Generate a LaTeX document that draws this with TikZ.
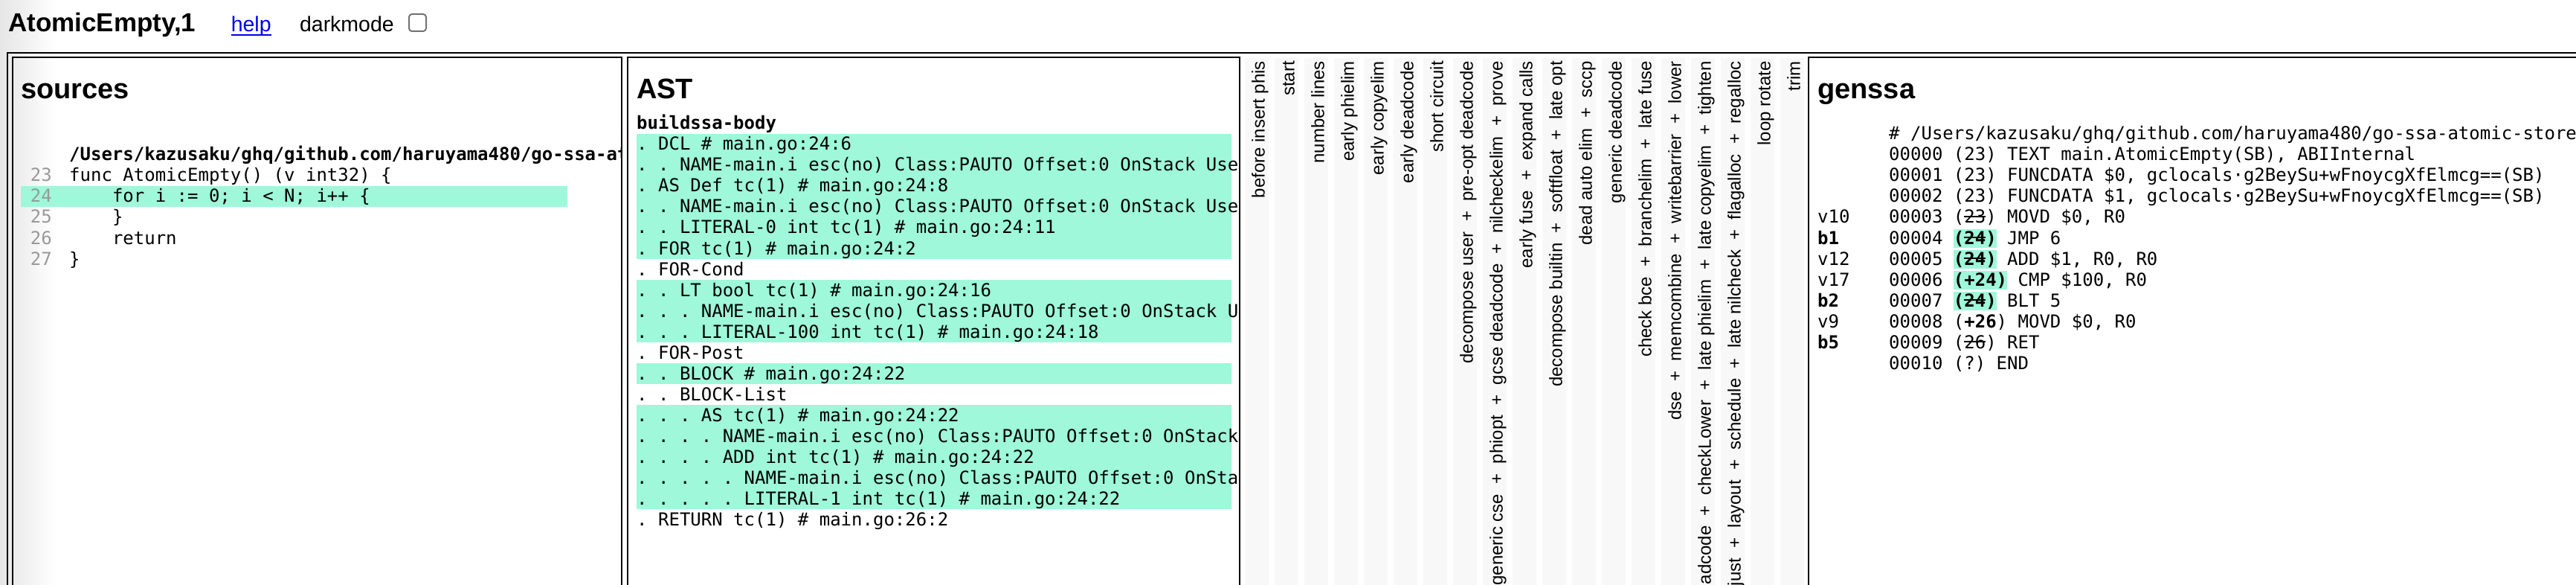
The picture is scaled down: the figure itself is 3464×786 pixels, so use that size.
\documentclass[tikz,border=0pt]{standalone}
\usepackage{fontspec}
\setmainfont{Liberation Sans}
\setmonofont{DejaVu Sans Mono}
\usetikzlibrary{positioning}

\definecolor{mint}{HTML}{9EF8D9}
\definecolor{linkblue}{HTML}{0000EE}
\definecolor{stripe}{HTML}{F8F8F8}
\definecolor{lineno}{HTML}{999999}

\newsavebox{\strikebox}
\newcommand{\strikepos}[1]{\sbox{\strikebox}{#1}\rlap{\rule[8.5pt]{\wd\strikebox}{1.5pt}}\usebox{\strikebox}}
\newcommand{\hlpos}[1]{{\setlength{\fboxsep}{0pt}\colorbox{mint}{\rule[-5pt]{0pt}{25pt}#1}}}
\newcommand{\pl}{\ \ +\ \ }

\begin{document}
\begin{tikzpicture}[x=1pt, y=-1pt,
			every node/.style={inner sep=0pt, anchor=base west},
			titletext/.style={font=\fontsize{28.5}{30}\selectfont},
			cellhead/.style={font=\fontsize{38}{40}\selectfont\bfseries},
			codeline/.style={font=\fontsize{24}{28}\selectfont\ttfamily},
			passname/.style={anchor=base east, rotate=90, font=\fontsize{24}{24}\selectfont},
			cellborder/.style={draw, line width=2.3pt}]
			\useasboundingbox (0,0) rectangle (3464,786);
			\clip (0,0) rectangle (3464,786);
			\shade[left color=black!10, right color=white] (0,0) rectangle (75,786);
			\node[font=\fontsize{35}{36}\selectfont\bfseries] (title) at (11,43) {AtomicEmpty,1};
			\node[titletext, text=linkblue, base right=47pt of title] (help) {help};
			\draw[linkblue, line width=2pt] ([yshift=-4pt]help.base west) -- ([yshift=-4pt]help.base east);
			\node[titletext, base right=38pt of help] (dark) {darkmode};
			\node[draw=black!55, line width=2pt, rounded corners=4pt, minimum size=23pt, anchor=south west] (darkbox) at ([xshift=19pt]dark.base east) {};
			\draw[cellborder] (3470,71) -| (10,790);
			\draw[cellborder] (17,77) rectangle (836,790);
			\draw[cellborder] (844,77) rectangle (1667,790);
			\draw[cellborder] (2432,77) rectangle (3480,790);
			\foreach \pass [count=\i from 0] in {before insert phis, start, number lines, early phielim, early copyelim, early deadcode, short circuit, decompose user\pl pre-opt deadcode, generic cse\pl phiopt\pl gcse deadcode\pl nilcheckelim\pl prove, early fuse\pl expand calls, decompose builtin\pl softfloat\pl late opt, dead auto elim\pl sccp, generic deadcode, check bce\pl branchelim\pl late fuse, dse\pl memcombine\pl writebarrier\pl lower, adcode\pl checkLower\pl late phielim\pl late copyelim\pl tighten, just\pl layout\pl schedule\pl late nilcheck\pl flagalloc\pl regalloc, loop rotate, trim}{
				\fill[stripe] ({1674+40*\i},78) rectangle +(32,720);
				\node[passname] (pass\i) at ({1700.5+40*\i},82) {\pass};
			}
			\node[cellhead] (srchead) at (28,133) {sources};
			\fill[mint] (28,250) rectangle (763,278);
			\begin{scope}
				\clip (18,78) rectangle (835,790);
				\node[codeline] (srcpath) at (93,216) {\textbf{/Users/kazusaku/ghq/github.com/haruyama480/go-ssa-at}};
				\foreach \n/\ind/\src in {23/0/func AtomicEmpty() (v int32) \{, 24/4/for i := 0; i < N; i++ \{, 25/4/\}, 26/4/return, 27/0/\}}{
					\node[codeline, text=lineno, anchor=base east] (num\n) at (70,{244+28*(\n-23)}) {\n};
					\node[codeline] (src\n) at ({93+14.45*\ind},{244+28*(\n-23)}) {\src};
				}
			\end{scope}
			\node[cellhead] (asthead) at (856,133) {AST};
			\foreach \a/\b in {0/5, 7/9, 11/11, 13/17}
				\fill[mint] (856,{180+28*\a}) rectangle (1656,{208+28*\b});
			\begin{scope}
				\clip (845,78) rectangle (1666,790);
				\node[codeline] (astroot) at (856,174) {\textbf{buildssa-body}};
				\foreach \k/\astline in {0/. DCL \# main.go:24:6, 1/. . NAME-main.i esc(no) Class:PAUTO Offset:0 OnStack Use, 2/. AS Def tc(1) \# main.go:24:8, 3/. . NAME-main.i esc(no) Class:PAUTO Offset:0 OnStack Use, 4/. . LITERAL-0 int tc(1) \# main.go:24:11, 5/. FOR tc(1) \# main.go:24:2, 6/. FOR-Cond, 7/. . LT bool tc(1) \# main.go:24:16, 8/. . . NAME-main.i esc(no) Class:PAUTO Offset:0 OnStack U, 9/. . . LITERAL-100 int tc(1) \# main.go:24:18, 10/. FOR-Post, 11/. . BLOCK \# main.go:24:22, 12/. . BLOCK-List, 13/. . . AS tc(1) \# main.go:24:22, 14/. . . . NAME-main.i esc(no) Class:PAUTO Offset:0 OnStack, 15/. . . . ADD int tc(1) \# main.go:24:22, 16/. . . . . NAME-main.i esc(no) Class:PAUTO Offset:0 OnSta, 17/. . . . . LITERAL-1 int tc(1) \# main.go:24:22, 18/. RETURN tc(1) \# main.go:26:2}
					\node[codeline] (ast\k) at (856,{202+28*\k}) {\astline};
			\end{scope}
			\node[cellhead] (genhead) at (2444,133) {genssa};
			\node[codeline] (genpath) at (2540,188) {\# /Users/kazusaku/ghq/github.com/haruyama480/go-ssa-atomic-store};
			\foreach \k/\blk in {4/v10, 5/\textbf{b1}, 6/v12, 7/v17, 8/\textbf{b2}, 9/v9, 10/\textbf{b5}}
				\node[codeline] (blk\k) at (2444,{188+28*\k}) {\blk};
			\foreach \k/\prog in {1/{00000 (23) TEXT main.AtomicEmpty(SB), ABIInternal}, 2/{00001 (23) FUNCDATA \$0, gclocals·g2BeySu+wFnoycgXfElmcg==(SB)}, 3/{00002 (23) FUNCDATA \$1, gclocals·g2BeySu+wFnoycgXfElmcg==(SB)}, 4/{00003 (\strikepos{23}) MOVD \$0, R0}, 5/{00004 \hlpos{\textbf{(\strikepos{24})}} JMP 6}, 6/{00005 \hlpos{\textbf{(\strikepos{24})}} ADD \$1, R0, R0}, 7/{00006 \hlpos{\textbf{(+24)}} CMP \$100, R0}, 8/{00007 \hlpos{\textbf{(\strikepos{24})}} BLT 5}, 9/{00008 (\textbf{+26}) MOVD \$0, R0}, 10/{00009 (\strikepos{26}) RET}, 11/{00010 (?) END}}
				\node[codeline] (gen\k) at (2540,{188+28*\k}) {\prog};
	\end{tikzpicture}
\end{document}
